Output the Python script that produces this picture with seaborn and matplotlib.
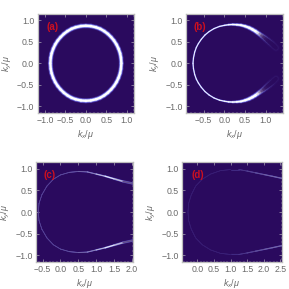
import numpy as np
import seaborn as sns
import matplotlib.pyplot as plt
from matplotlib.colors import to_rgb
from matplotlib.ticker import MultipleLocator

sns.set_style("white")
plt.rcParams['font.family'] = ['Liberation Sans', 'DejaVu Sans']
plt.rcParams['mathtext.fontset'] = 'custom'
plt.rcParams['mathtext.it'] = 'Liberation Sans:italic'
plt.rcParams['mathtext.rm'] = 'Liberation Sans'

# upper half of each ridge, the lower half is its mirror image
kx_a = [-0.87, -0.86, -0.84, -0.8, -0.75, -0.69, -0.62, -0.54, -0.45, -0.35, -0.25, -0.12, 0.0,
        0.12, 0.25, 0.35, 0.45, 0.54, 0.62, 0.69, 0.75, 0.8, 0.84, 0.86, 0.87]
ky_a = [0.0, 0.13, 0.23, 0.34, 0.44, 0.53, 0.61, 0.685, 0.75, 0.805, 0.84, 0.868, 0.875,
        0.868, 0.84, 0.805, 0.75, 0.685, 0.61, 0.53, 0.44, 0.34, 0.23, 0.13, 0.0]
peak_a = [1.0] * 25
width_a = [1.0] * 25

kx_b = [-0.76, -0.75, -0.72, -0.68, -0.63, -0.56, -0.47, -0.37, -0.25, -0.12, 0.0, 0.1, 0.2, 0.3, 0.4, 0.5,
        0.6, 0.68, 0.75, 0.8, 0.85, 0.9, 0.95, 1.0, 1.05, 1.1, 1.15, 1.2, 1.25]
ky_b = [0.0, 0.12, 0.26, 0.37, 0.46, 0.56, 0.66, 0.74, 0.81, 0.86, 0.885, 0.9, 0.905, 0.9, 0.89, 0.865,
        0.83, 0.79, 0.75, 0.715, 0.68, 0.645, 0.61, 0.57, 0.53, 0.49, 0.45, 0.405, 0.36]
peak_b = [1.0] * 20 + [0.9, 0.72, 0.55, 0.42, 0.3, 0.22, 0.16, 0.1, 0.06]
width_b = [0.34] * 9 + [0.37, 0.4, 0.46, 0.55, 0.65, 0.75, 0.85, 0.95, 1.0, 1.0, 1.02, 1.05, 1.1, 1.2, 1.3, 1.4,
                        1.5, 1.55, 1.55, 1.55]

kx_c = [-0.62, -0.6, -0.52, -0.38, -0.2, 0.0, 0.25, 0.5, 0.75, 1.0, 1.25, 1.5, 1.75, 2.03]
ky_c = [0.0, 0.2, 0.4, 0.6, 0.76, 0.86, 0.92, 0.94, 0.93, 0.88, 0.83, 0.77, 0.71, 0.66]
peak_c = [0.6, 0.6, 0.6, 0.6, 0.6, 0.62, 0.65, 0.7, 0.75, 0.85, 0.95, 1.0, 0.8, 0.5]
width_c = [0.18, 0.18, 0.18, 0.18, 0.18, 0.18, 0.2, 0.22, 0.25, 0.3, 0.38, 0.44, 0.5, 0.6]

kx_d = [-0.28, -0.26, -0.18, -0.05, 0.15, 0.4, 0.7, 1.0, 1.25, 1.5, 1.75, 2.0, 2.25, 2.55]
ky_d = [0.0, 0.2, 0.4, 0.6, 0.76, 0.88, 0.96, 0.985, 0.985, 0.95, 0.91, 0.87, 0.83, 0.78]
peak_d = [0.3, 0.3, 0.3, 0.3, 0.3, 0.3, 0.33, 0.36, 0.45, 0.55, 0.62, 0.68, 0.72, 0.72]
width_d = [0.16, 0.16, 0.16, 0.16, 0.16, 0.16, 0.16, 0.16, 0.18, 0.23, 0.26, 0.28, 0.3, 0.3]

panels = [
    ("(a)", kx_a, ky_a, peak_a, width_a, (-1.18, 1.18), (-1.16, 1.15), [37.7, 134, 14, 113], (-0.96, 0.84)),
    ("(b)", kx_b, ky_b, peak_b, width_b, (-0.93, 1.42), (-1.16, 1.15), [186, 283, 14, 113], (-0.76, 0.84)),
    ("(c)", kx_c, ky_c, peak_c, width_c, (-0.685, 2.03), (-1.16, 1.16), [36, 133, 162, 262], (-0.47, 0.85)),
    ("(d)", kx_d, ky_d, peak_d, width_d, (-0.46, 2.55), (-1.16, 1.16), [182, 282, 162, 262], (-0.16, 0.85)),
]
ticks_x = [[-1.0, -0.5, 0.0, 0.5, 1.0], [-0.5, 0.0, 0.5, 1.0], [-0.5, 0.0, 0.5, 1.0, 1.5, 2.0],
           [0.0, 0.5, 1.0, 1.5, 2.0, 2.5]]
ticks_y = [-1.0, -0.5, 0.0, 0.5, 1.0]

bg = "#2a0a5e"
gray = "#6a6a6a"

fig = plt.figure(figsize=(2.89, 2.89), dpi=100)


def blend(col, f):
    a = np.array(to_rgb(bg))
    return tuple(a + (np.array(to_rgb(col)) - a) * min(f, 1))


def ridge(ax, kx, ky, peak, width):
    # layered lines give the soft glow around the bright core, core fades faster
    layers = [(3.6, "#4a2fa8", 0.8, 1), (2.7, "#7f86ea", 1.0, 1), (1.7, "#ffffff", 1.0, 3)]
    for lw, col, f, power in layers:
        for sign in [1, -1]:
            for i in range(len(kx) - 1):
                xs = kx[i:i + 2]
                ys = [sign * v for v in ky[i:i + 2]]
                p = (peak[i] + peak[i + 1]) / 2
                sns.lineplot(x=xs, y=ys, sort=False, estimator=None, ax=ax,
                             color=blend(col, f * p ** power),
                             linewidth=lw * (width[i] + width[i + 1]) / 2,
                             solid_capstyle="round", legend=False)


for (name, kx, ky, peak, width, xlim, ylim, box, lab), tx in zip(panels, ticks_x):
    l, r, t, b = box
    ax = fig.add_axes([l / 289, 1 - b / 289, (r - l) / 289, (b - t) / 289])
    ax.set_facecolor(bg)
    ridge(ax, kx, ky, peak, width)
    ax.set_xlim(xlim)
    ax.set_ylim(ylim)
    ax.set_xticks(tx)
    ax.set_yticks(ticks_y)
    ax.xaxis.set_major_formatter(lambda v, p: f"{v:.1f}".replace("-", "\u2212"))
    ax.yaxis.set_major_formatter(lambda v, p: f"{v:.1f}".replace("-", "\u2212"))
    ax.xaxis.set_minor_locator(MultipleLocator(0.1))
    ax.yaxis.set_minor_locator(MultipleLocator(0.1))
    ax.tick_params(which="major", direction="in", length=2, width=0.4, color="#c8c8c8",
                   labelsize=6.3, labelcolor=gray, pad=2.5, bottom=True, left=True, top=True, right=True)
    ax.tick_params(which="minor", direction="in", length=1, width=0.3, color="#c8c8c8",
                   bottom=True, left=True, top=True, right=True)
    for s in ax.spines.values():
        s.set_color("#bdbdbd")
        s.set_linewidth(0.9)
    ax.set_xlabel(r"$k_x/\mu$", fontsize=6.5, color=gray, labelpad=2)
    ax.set_ylabel(r"$k_y/\mu$", fontsize=6.5, color=gray, labelpad=2)
    ax.text(lab[0], lab[1], name, color="#cc1020", fontsize=7, fontweight="bold", va="center")

fig.savefig("out.png", dpi=100)
